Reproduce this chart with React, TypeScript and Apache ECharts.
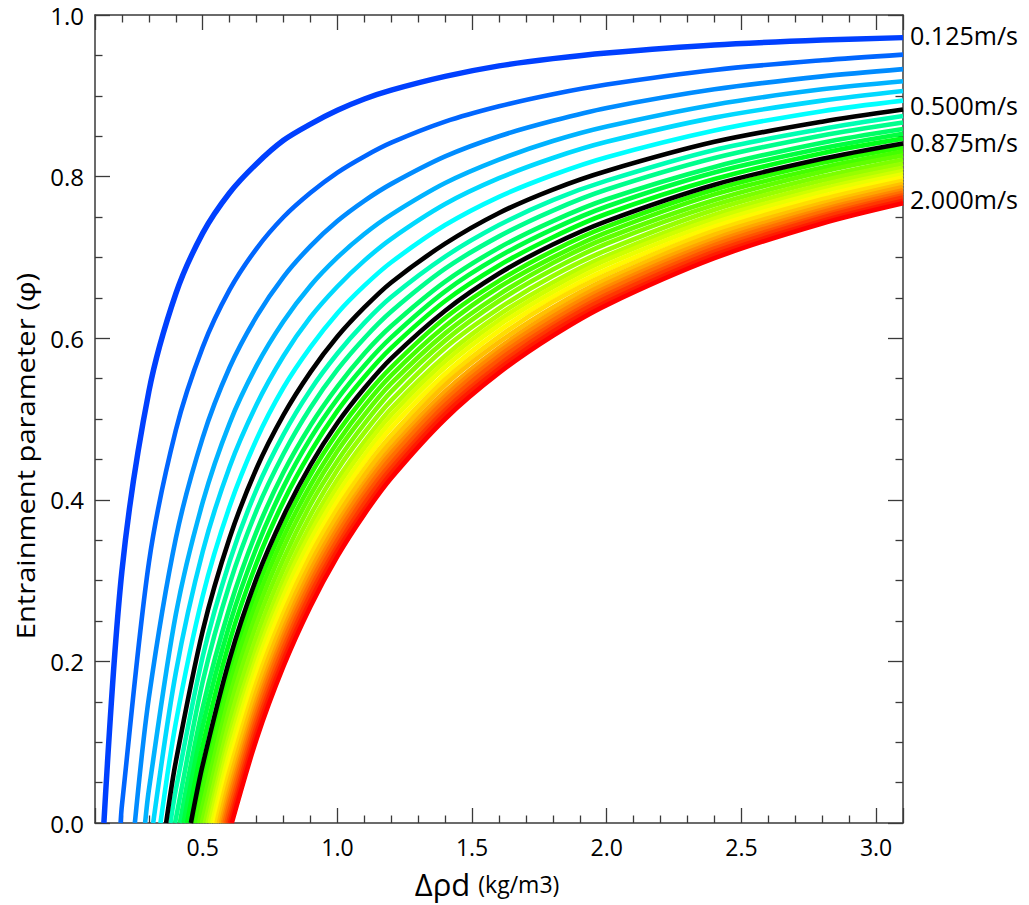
import React, { useEffect, useRef } from 'react';
import * as echarts from 'echarts';

// Δρd grid (kg/m3) at which each curve was read
const X_GRID = [0.2, 0.3, 0.4, 0.5, 0.6, 0.7, 0.8, 0.9, 1.0, 1.1, 1.2, 1.4, 1.6, 1.8, 2.0, 2.4, 2.8, 3.1];

// flow speeds (m/s), one curve each
const SPEEDS = [
  0.125, 0.1875, 0.25, 0.3125, 0.375, 0.4375, 0.5, 0.5625, 0.625, 0.6875, 0.75,
  0.8125, 0.875, 0.9375, 1.0, 1.0625, 1.125, 1.1875, 1.25, 1.3125, 1.375, 1.4375,
  1.5, 1.5625, 1.625, 1.6875, 1.75, 1.8125, 1.875, 1.9375, 2.0,
];

// Δρd where each curve meets φ = 0
const ZERO_CROSSING = [
  0.133, 0.195, 0.248, 0.286, 0.316, 0.343, 0.364, 0.380, 0.397, 0.415, 0.429,
  0.442, 0.456, 0.466, 0.477, 0.487, 0.497, 0.508, 0.518, 0.526, 0.535, 0.543,
  0.551, 0.560, 0.568, 0.575, 0.581, 0.588, 0.595, 0.601, 0.608,
];

const _ = null;
// φ values on X_GRID (null = below the zero crossing)
const PHI_0125 = [0.312, 0.534, 0.655, 0.730, 0.780, 0.816, 0.845, 0.865, 0.882, 0.896, 0.907, 0.924, 0.937, 0.946, 0.953, 0.963, 0.969, 0.972];
const PHI_01875 = [0.022, 0.322, 0.486, 0.589, 0.660, 0.711, 0.750, 0.780, 0.805, 0.825, 0.842, 0.868, 0.887, 0.902, 0.914, 0.932, 0.944, 0.951];
const PHI_0250 = [_, 0.155, 0.352, 0.477, 0.564, 0.627, 0.676, 0.714, 0.745, 0.770, 0.791, 0.825, 0.850, 0.869, 0.885, 0.908, 0.924, 0.933];
const PHI_03125 = [_, 0.041, 0.258, 0.397, 0.495, 0.566, 0.621, 0.665, 0.700, 0.729, 0.753, 0.792, 0.821, 0.844, 0.862, 0.889, 0.908, 0.918];
const PHI_0375 = [_, _, 0.186, 0.336, 0.441, 0.518, 0.578, 0.626, 0.664, 0.696, 0.723, 0.766, 0.798, 0.823, 0.843, 0.873, 0.894, 0.906];
const PHI_04375 = [_, _, 0.124, 0.281, 0.392, 0.475, 0.539, 0.589, 0.631, 0.665, 0.694, 0.740, 0.775, 0.802, 0.824, 0.857, 0.881, 0.894];
const PHI_0500 = [_, _, 0.076, 0.238, 0.353, 0.439, 0.505, 0.558, 0.602, 0.638, 0.669, 0.717, 0.755, 0.784, 0.807, 0.843, 0.868, 0.883];
const PHI_05625 = [_, _, 0.041, 0.206, 0.324, 0.413, 0.481, 0.536, 0.581, 0.619, 0.651, 0.701, 0.740, 0.771, 0.795, 0.833, 0.859, 0.875];
const PHI_0625 = [_, _, 0.005, 0.175, 0.296, 0.387, 0.457, 0.514, 0.561, 0.600, 0.633, 0.686, 0.726, 0.758, 0.784, 0.823, 0.851, 0.867];
const PHI_06875 = [_, _, _, 0.143, 0.267, 0.361, 0.434, 0.492, 0.540, 0.581, 0.615, 0.670, 0.712, 0.745, 0.772, 0.812, 0.842, 0.859];
const PHI_0750 = [_, _, _, 0.120, 0.246, 0.341, 0.416, 0.476, 0.525, 0.566, 0.601, 0.658, 0.701, 0.735, 0.763, 0.805, 0.835, 0.853];
const PHI_08125 = [_, _, _, 0.096, 0.225, 0.322, 0.398, 0.459, 0.510, 0.552, 0.588, 0.646, 0.690, 0.725, 0.754, 0.797, 0.829, 0.847];
const PHI_0875 = [_, _, _, 0.072, 0.203, 0.303, 0.380, 0.443, 0.495, 0.538, 0.575, 0.634, 0.680, 0.716, 0.745, 0.790, 0.822, 0.841];
const PHI_09375 = [_, _, _, 0.056, 0.188, 0.288, 0.367, 0.431, 0.483, 0.527, 0.564, 0.625, 0.671, 0.708, 0.738, 0.784, 0.817, 0.836];
const PHI_1000 = [_, _, _, 0.039, 0.173, 0.274, 0.354, 0.418, 0.471, 0.516, 0.554, 0.615, 0.663, 0.700, 0.731, 0.778, 0.811, 0.831];
const PHI_10625 = [_, _, _, 0.022, 0.157, 0.260, 0.341, 0.406, 0.460, 0.505, 0.544, 0.606, 0.654, 0.693, 0.724, 0.771, 0.806, 0.826];
const PHI_1125 = [_, _, _, 0.005, 0.142, 0.246, 0.327, 0.394, 0.448, 0.494, 0.534, 0.597, 0.646, 0.685, 0.717, 0.765, 0.800, 0.821];
const PHI_11875 = [_, _, _, _, 0.126, 0.231, 0.314, 0.381, 0.437, 0.483, 0.523, 0.588, 0.637, 0.677, 0.709, 0.759, 0.795, 0.816];
const PHI_1250 = [_, _, _, _, 0.111, 0.217, 0.301, 0.369, 0.425, 0.472, 0.513, 0.578, 0.629, 0.669, 0.702, 0.753, 0.790, 0.811];
const PHI_13125 = [_, _, _, _, 0.100, 0.206, 0.291, 0.359, 0.416, 0.464, 0.505, 0.571, 0.622, 0.663, 0.697, 0.748, 0.785, 0.807];
const PHI_1375 = [_, _, _, _, 0.088, 0.196, 0.281, 0.350, 0.407, 0.455, 0.497, 0.564, 0.616, 0.657, 0.691, 0.743, 0.781, 0.803];
const PHI_14375 = [_, _, _, _, 0.076, 0.185, 0.271, 0.340, 0.398, 0.447, 0.489, 0.556, 0.609, 0.651, 0.685, 0.738, 0.776, 0.799];
const PHI_1500 = [_, _, _, _, 0.065, 0.174, 0.260, 0.331, 0.389, 0.438, 0.480, 0.549, 0.602, 0.645, 0.679, 0.733, 0.772, 0.795];
const PHI_15625 = [_, _, _, _, 0.053, 0.163, 0.250, 0.321, 0.380, 0.430, 0.472, 0.542, 0.595, 0.638, 0.673, 0.728, 0.767, 0.791];
const PHI_1625 = [_, _, _, _, 0.042, 0.152, 0.240, 0.312, 0.371, 0.421, 0.464, 0.534, 0.588, 0.632, 0.668, 0.723, 0.763, 0.787];
const PHI_16875 = [_, _, _, _, 0.033, 0.144, 0.232, 0.304, 0.364, 0.415, 0.458, 0.528, 0.583, 0.627, 0.663, 0.719, 0.759, 0.783];
const PHI_1750 = [_, _, _, _, 0.025, 0.136, 0.225, 0.297, 0.357, 0.408, 0.452, 0.523, 0.578, 0.622, 0.659, 0.715, 0.756, 0.780];
const PHI_18125 = [_, _, _, _, 0.016, 0.128, 0.217, 0.290, 0.350, 0.402, 0.445, 0.517, 0.573, 0.617, 0.654, 0.711, 0.752, 0.777];
const PHI_1875 = [_, _, _, _, 0.007, 0.120, 0.209, 0.283, 0.343, 0.395, 0.439, 0.511, 0.567, 0.613, 0.650, 0.707, 0.749, 0.774];
const PHI_19375 = [_, _, _, _, _, 0.112, 0.202, 0.275, 0.337, 0.388, 0.433, 0.506, 0.562, 0.608, 0.645, 0.703, 0.745, 0.770];
const PHI_2000 = [_, _, _, _, _, 0.104, 0.194, 0.268, 0.330, 0.382, 0.427, 0.500, 0.557, 0.603, 0.641, 0.699, 0.742, 0.767];

const PHI = [
  PHI_0125, PHI_01875, PHI_0250, PHI_03125, PHI_0375, PHI_04375, PHI_0500, PHI_05625,
  PHI_0625, PHI_06875, PHI_0750, PHI_08125, PHI_0875, PHI_09375, PHI_1000, PHI_10625,
  PHI_1125, PHI_11875, PHI_1250, PHI_13125, PHI_1375, PHI_14375, PHI_1500, PHI_15625,
  PHI_1625, PHI_16875, PHI_1750, PHI_18125, PHI_1875, PHI_19375, PHI_2000,
];

const LABELLED_SPEEDS = [0.125, 0.5, 0.875, 2.0];
const BLACK_SPEEDS = [0.5, 0.875];

const FONT = '"Open Sans", "Noto Sans", sans-serif';
const AXIS_COLOR = '#3a3a3a';

function rainbow(i: number): string {
  const h0 = i <= 12 ? 225 - 9 * i : 117 - 6.5 * (i - 12);
  const h = ((h0 % 360) + 360) % 360;
  const x = 1 - Math.abs(((h / 60) % 2) - 1);
  let rgb: number[];
  if (h < 60) rgb = [1, x, 0];
  else if (h < 120) rgb = [x, 1, 0];
  else if (h < 180) rgb = [0, 1, x];
  else if (h < 240) rgb = [0, x, 1];
  else if (h < 300) rgb = [x, 0, 1];
  else rgb = [1, 0, x];
  return '#' + rgb.map((v) => Math.round(v * 255).toString(16).padStart(2, '0')).join('');
}

const LABEL_OFFSET: Record<string, number> = { '0.125': -3, '0.5': -5, '0.875': -1, '2': -4 };

export default function App() {
  const ref = useRef<HTMLDivElement>(null);

  useEffect(() => {
    if (!ref.current) return;
    const chart = echarts.init(ref.current, undefined, { renderer: 'svg' });

    const series = PHI.map((vals, i) => {
      const data: number[][] = [[ZERO_CROSSING[i], 0]];
      vals.forEach((v, j) => {
        if (v !== null) data.push([X_GRID[j], v as number]);
      });
      const u = SPEEDS[i];
      const isBlack = BLACK_SPEEDS.includes(u);
      const labelled = LABELLED_SPEEDS.includes(u);
      const color = isBlack ? '#000000' : rainbow(i);
      const s: any = {
        type: 'line',
        name: u.toFixed(4) + ' m/s',
        data,
        showSymbol: false,
        symbol: 'none',
        silent: true,
        smooth: 0.3,
        z: isBlack ? 4 : 2,
        lineStyle: {
          width: i === 0 ? 5.5 : 4.6,
          color,
          join: 'round',
        },
        itemStyle: { color },
      };
      if (labelled) {
        s.endLabel = {
          show: true,
          formatter: () => u.toFixed(3) + 'm/s',
          color: '#000',
          fontSize: 25,
          fontFamily: FONT,
          distance: 7,
          offset: [0, LABEL_OFFSET[String(u)] || 0],
        };
      }
      return s;
    });

    const tickStyle = { color: AXIS_COLOR, width: 1.3 };
    const baseX = {
      type: 'value',
      min: 0.1,
      max: 3.1,
      splitNumber: 6,
      minInterval: 0.5,
      maxInterval: 0.5,
      axisLine: { show: true, onZero: false, lineStyle: { color: AXIS_COLOR, width: 1.5 } },
      axisTick: { show: true, inside: true, length: 15, lineStyle: tickStyle },
      minorTick: { show: true, splitNumber: 5, length: 7.5, lineStyle: tickStyle },
      splitLine: { show: false },
      minorSplitLine: { show: false },
    };
    const baseY = {
      type: 'value',
      min: 0,
      max: 1,
      interval: 0.2,
      axisLine: { show: true, onZero: false, lineStyle: { color: AXIS_COLOR, width: 1.5 } },
      axisTick: { show: true, inside: true, length: 15, lineStyle: tickStyle },
      minorTick: { show: true, splitNumber: 4, length: 7.5, lineStyle: tickStyle },
      splitLine: { show: false },
      minorSplitLine: { show: false },
    };

    chart.setOption({
      animation: false,
      backgroundColor: '#ffffff',
      grid: { left: 95, top: 15, width: 808, height: 808, containLabel: false },
      xAxis: [
        {
          ...baseX,
          position: 'bottom',
          axisLabel: {
            show: true,
            showMinLabel: false,
            showMaxLabel: false,
            formatter: (v: number) => v.toFixed(1),
            color: '#000',
            fontSize: 23,
            fontFamily: FONT,
            margin: 12,
          },
        },
        { ...baseX, position: 'top', axisLabel: { show: false } },
      ],
      yAxis: [
        {
          ...baseY,
          position: 'left',
          axisLabel: {
            show: true,
            formatter: (v: number) => v.toFixed(1),
            color: '#000',
            fontSize: 24,
            fontFamily: FONT,
            margin: 11,
          },
        },
        { ...baseY, position: 'right', axisLabel: { show: false } },
      ],
      series,
      graphic: [
        {
          type: 'text',
          x: 25,
          y: 456,
          rotation: Math.PI / 2,
          scaleX: 1.12,
          style: {
            text: 'Entrainment parameter (φ)',
            fill: '#000',
            fontSize: 26,
            fontFamily: FONT,
            align: 'center',
            verticalAlign: 'middle',
          },
        },
        {
          type: 'text',
          x: 487,
          y: 884,
          style: {
            text: '{a|Δρd }{b|(kg/m3)}',
            align: 'center',
            verticalAlign: 'middle',
            fill: '#000',
            rich: {
              a: { fontSize: 31, fontFamily: FONT, fill: '#000' },
              b: { fontSize: 23, fontFamily: FONT, fill: '#000' },
            },
          },
        },
      ],
    });

    return () => chart.dispose();
  }, []);

  return (
    <div
      ref={ref}
      style={{ position: 'absolute', left: 0, top: 0, width: 1029, height: 905 }}
    />
  );
}
